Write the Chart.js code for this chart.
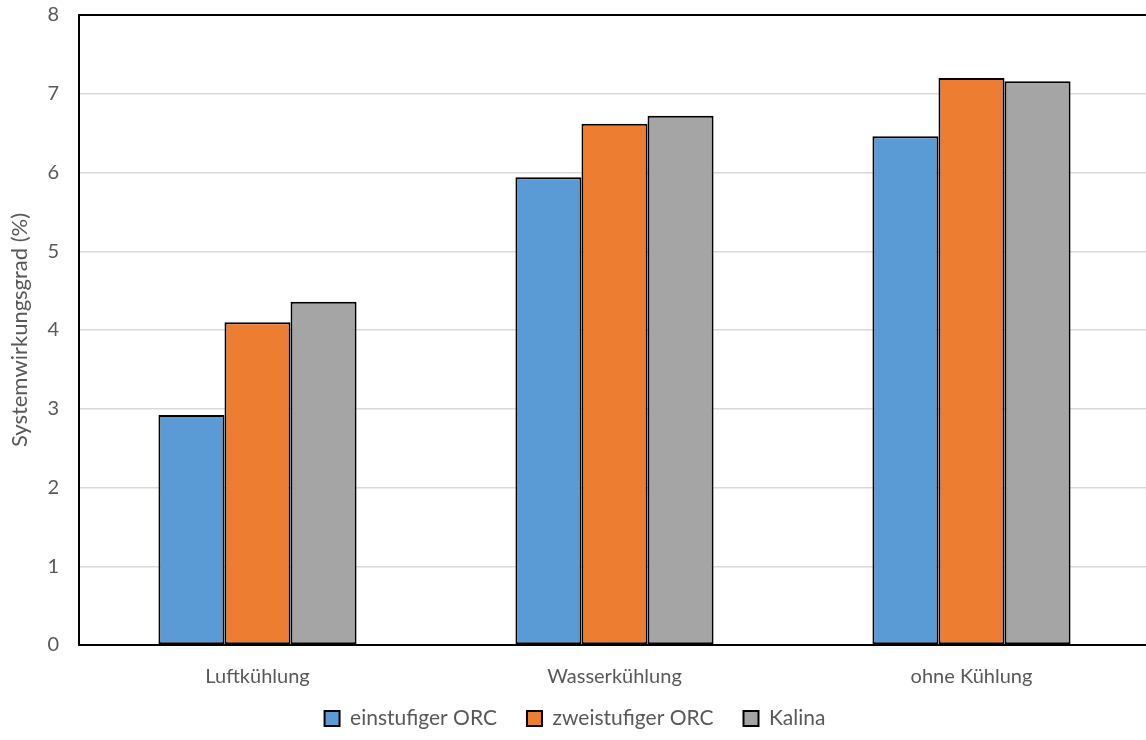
<!DOCTYPE html>
<html>
<head>
<meta charset="utf-8">
<script src="https://cdn.jsdelivr.net/npm/chart.js@4/dist/chart.umd.min.js"></script>
<style>
  html, body { margin: 0; padding: 0; background: #fff; overflow: hidden; }
  #wrap { width: 1150px; height: 740px; }
</style>
</head>
<body>
<div id="wrap"><canvas id="c" width="1150" height="740"></canvas></div>
<script>
const categories = ['Luftkühlung', 'Wasserkühlung', 'ohne Kühlung'];
const einstufigORC = [2.92, 5.94, 6.46];
const zweistufigORC = [4.10, 6.62, 7.20];
const kalina = [4.36, 6.72, 7.16];
const seriesNames = ['einstufiger ORC', 'zweistufiger ORC', 'Kalina'];
const seriesColors = ['#5b9bd5', '#ed7d31', '#a5a5a5'];
const yTicks = [0, 1, 2, 3, 4, 5, 6, 7, 8];

const textColor = '#595959';
const fontFamily = 'Lato, "Open Sans", sans-serif';

const values = [einstufigORC, zweistufigORC, kalina];
const datasets = values.map((v, i) => ({
  label: seriesNames[i],
  data: v,
  backgroundColor: seriesColors[i],
  borderColor: '#000',
  borderWidth: 2,
  borderSkipped: false,
  categoryPercentage: 0.555,
  barPercentage: 1.0
}));

new Chart(document.getElementById('c'), {
  type: 'bar',
  data: { labels: categories, datasets },
  options: {
    responsive: false,
    animation: false,
    layout: { padding: { top: 15, right: 0, left: 0, bottom: 1 } },
    plugins: {
      tooltip: { enabled: false },
      legend: {
        position: 'bottom',
        labels: {
          color: textColor,
          font: { family: fontFamily, size: 21 },
          boxWidth: 15,
          boxHeight: 15,
          padding: 30,
          generateLabels: (chart) => chart.data.datasets.map((d, i) => ({
            text: d.label,
            fillStyle: d.backgroundColor,
            strokeStyle: '#000',
            lineWidth: 2,
            fontColor: textColor,
            datasetIndex: i
          }))
        }
      }
    },
    scales: {
      x: {
        grid: { display: false },
        border: { display: true, color: '#000', width: 2 },
        ticks: { color: textColor, font: { family: fontFamily, size: 20 }, padding: 12 },
        afterFit: (s) => {
          s.height = 33;
          // category labels sit below the thin axis band, so draw them unclipped
          s._computeLabelArea = () => undefined;
        }
      },
      y: {
        min: 0,
        max: 8,
        afterBuildTicks: (s) => { s.ticks = yTicks.map(v => ({ value: v })); },
        grid: {
          color: (ctx) => (ctx.tick && ctx.tick.value === 8) ? '#000' : '#d9d9d9',
          lineWidth: (ctx) => (ctx.tick && ctx.tick.value === 8) ? 2 : 1.5,
          drawTicks: false
        },
        border: { display: true, color: '#000', width: 2 },
        ticks: { color: textColor, font: { family: fontFamily, size: 20 }, padding: 20 },
        title: {
          display: true,
          text: 'Systemwirkungsgrad (%)',
          color: textColor,
          font: { family: fontFamily, size: 22 },
          padding: { top: 7, bottom: 0 }
        },
        afterFit: (s) => {
          s.width = 79;
          s.paddingTop = 0;
        }
      }
    }
  }
});
</script>
</body>
</html>
